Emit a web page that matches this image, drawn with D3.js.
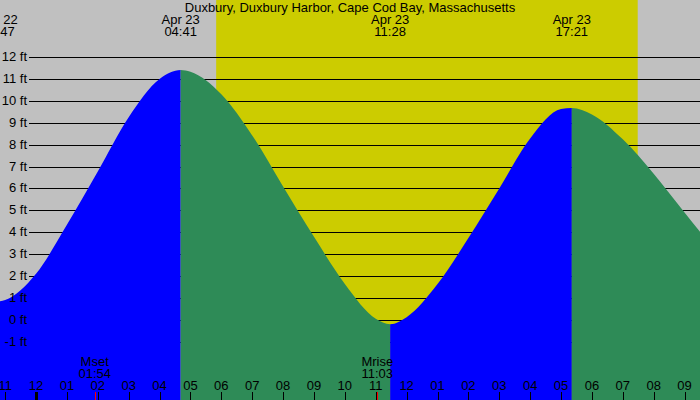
<!DOCTYPE html>
<html>
<head>
<meta charset="utf-8">
<script src="https://cdn.jsdelivr.net/npm/d3@7"></script>
<style>
    body { margin: 0; background: #ffffff; }
    svg { display: block; font-family: "Liberation Sans", Arial, sans-serif; }
</style>
</head>
<body>
<svg width="700" height="400"></svg>
<script>
const titleText = "Duxbury, Duxbury Harbor, Cape Cod Bay, Massachusetts";

// tide curve (time, feet)
const tideStamps = [
    "2023-04-22 22:47", "2023-04-22 23:00", "2023-04-23 00:00", "2023-04-23 01:00",
    "2023-04-23 02:00", "2023-04-23 03:00", "2023-04-23 04:00", "2023-04-23 04:41",
    "2023-04-23 05:00", "2023-04-23 06:00", "2023-04-23 07:00", "2023-04-23 08:00",
    "2023-04-23 09:00", "2023-04-23 10:00", "2023-04-23 11:00", "2023-04-23 11:28",
    "2023-04-23 12:00", "2023-04-23 13:00", "2023-04-23 14:00", "2023-04-23 15:00",
    "2023-04-23 16:00", "2023-04-23 17:00", "2023-04-23 17:21", "2023-04-23 18:00",
    "2023-04-23 19:00", "2023-04-23 20:00", "2023-04-23 21:00", "2023-04-23 21:30"
];
const tideFeet = [
    0.83, 0.9, 2.1, 4.34,
    6.77, 9.25, 11.0, 11.41,
    11.33, 10.3, 8.42, 6.09,
    3.79, 1.64, 0.05, -0.2,
    0.12, 1.63, 3.73, 6.0,
    8.28, 9.62, 9.67, 9.38,
    8.24, 6.67, 4.9, 4.02
];

// high / low events
const eventStamps = ["2023-04-22 22:47", "2023-04-23 04:41", "2023-04-23 11:28", "2023-04-23 17:21"];
const eventDays = ["Apr 22", "Apr 23", "Apr 23", "Apr 23"];
const eventTimes = ["22:47", "04:41", "11:28", "17:21"];
const eventFeet = [0.83, 11.41, -0.2, 9.67];

const sunrise = "2023-04-23 05:50";
const sunset = "2023-04-23 19:29";

const moonNames = ["Mset", "Mrise"];
const moonStamps = ["2023-04-23 01:54", "2023-04-23 11:03"];
const moonTimes = ["01:54", "11:03"];

const feetTicks = [-1, 0, 1, 2, 3, 4, 5, 6, 7, 8, 9, 10, 11, 12];

const viewStart = "2023-04-22 22:50";
const viewEnd = "2023-04-23 21:30";

const parse = d3.timeParse("%Y-%m-%d %H:%M");

function drawChart() {

    const attr = {
        width: 700,
        height: 400,
        top: 57,
        zeroY: 319.8,
        lineStart: 29,
        font: "13px"
    };

    const svg = d3.select("svg");
    svg.selectAll("*").remove();

    const scX = d3.scaleTime()
        .domain([parse(viewStart), parse(viewEnd)])
        .range([0, attr.width]);

    const scY = d3.scaleLinear()
        .domain([0, 12])
        .range([attr.zeroY, attr.top]);

    // night background
    svg.append("rect")
        .attr("width", attr.width)
        .attr("height", attr.height)
        .style("fill", "#c0c0c0");

    // daylight
    svg.append("rect")
        .attr("x", scX(parse(sunrise)))
        .attr("y", 0)
        .attr("width", scX(parse(sunset)) - scX(parse(sunrise)))
        .attr("height", attr.height)
        .style("fill", "#cccc00");

    // feet grid lines
    svg.selectAll(".grid")
        .data(feetTicks)
        .enter()
        .append("line")
        .attr("x1", attr.lineStart)
        .attr("x2", attr.width)
        .attr("y1", d => Math.round(scY(d)) + 0.5)
        .attr("y2", d => Math.round(scY(d)) + 0.5)
        .style("stroke", "#000")
        .style("stroke-width", 1);

    drawTide(svg, scX, scY, attr);
    drawLabels(svg, scX, scY, attr);
}

function drawTide(svg, scX, scY, attr) {

    const points = tideStamps.map((s, i) => ({ t: parse(s), ft: tideFeet[i] }));

    const area = d3.area()
        .x(d => scX(d.t))
        .y0(attr.height)
        .y1(d => scY(d.ft))
        .curve(d3.curveMonotoneX);

    // segments between highs and lows: [time, feet] at each boundary
    let bounds = [[scX.domain()[0], null]];
    eventStamps.forEach((s, i) => {
        const t = parse(s);
        if (t > bounds[0][0]) bounds.push([t, eventFeet[i]]);
    });
    bounds.push([scX.domain()[1], null]);

    const defs = svg.append("defs");

    for (let i = 0; i < bounds.length - 1; i++) {
        const x0 = i === 0 ? -20 : scX(bounds[i][0]);
        const x1 = i === bounds.length - 2 ? attr.width + 20 : scX(bounds[i + 1][0]);

        // a segment rises when it ends on a high or starts from a low
        let rising;
        if (bounds[i + 1][1] !== null && bounds[i][1] !== null) {
            rising = bounds[i + 1][1] > bounds[i][1];
        } else if (bounds[i + 1][1] !== null) {
            rising = bounds[i + 1][1] > bounds[i + 2][1];
        } else {
            rising = bounds[i][1] < bounds[i - 1][1];
        }

        defs.append("clipPath")
            .attr("id", "seg" + i)
            .append("rect")
            .attr("x", x0)
            .attr("y", 0)
            .attr("width", x1 - x0)
            .attr("height", attr.height);

        svg.append("path")
            .datum(points)
            .attr("d", area)
            .attr("clip-path", `url(#seg${i})`)
            .style("fill", rising ? "#0000ff" : "#2e8b57");
    }
}

function drawLabels(svg, scX, scY, attr) {

    // title
    svg.append("text")
        .attr("x", attr.width / 2)
        .attr("y", 12)
        .attr("text-anchor", "middle")
        .style("font-size", attr.font)
        .text(titleText);

    // feet labels
    svg.selectAll(".ftLabel")
        .data(feetTicks)
        .enter()
        .append("text")
        .attr("x", 27)
        .attr("y", d => scY(d) + 4)
        .attr("text-anchor", "end")
        .style("font-size", attr.font)
        .text(d => d + " ft");

    // event labels
    eventStamps.forEach((s, i) => {
        const x = scX(parse(s));
        svg.append("text")
            .attr("x", x)
            .attr("y", 24)
            .attr("text-anchor", "middle")
            .style("font-size", attr.font)
            .text(eventDays[i]);
        svg.append("text")
            .attr("x", x)
            .attr("y", 36)
            .attr("text-anchor", "middle")
            .style("font-size", attr.font)
            .text(eventTimes[i]);
    });

    // moon labels and red ticks
    moonStamps.forEach((s, i) => {
        const x = scX(parse(s));
        svg.append("text")
            .attr("x", x)
            .attr("y", 366)
            .attr("text-anchor", "middle")
            .style("font-size", attr.font)
            .text(moonNames[i]);
        svg.append("text")
            .attr("x", x)
            .attr("y", 378)
            .attr("text-anchor", "middle")
            .style("font-size", attr.font)
            .text(moonTimes[i]);
        svg.append("line")
            .attr("x1", Math.round(x) + 0.5)
            .attr("x2", Math.round(x) + 0.5)
            .attr("y1", 392)
            .attr("y2", attr.height)
            .style("stroke", "#ff0000")
            .style("stroke-width", 1);
    });

    // hour axis
    const hours = scX.ticks(d3.timeHour.every(1));
    const fmt = d3.timeFormat("%I");

    svg.selectAll(".hourTick")
        .data(hours)
        .enter()
        .append("line")
        .attr("x1", d => Math.round(scX(d)) + 0.5)
        .attr("x2", d => Math.round(scX(d)) + 0.5)
        .attr("y1", 392)
        .attr("y2", attr.height)
        .style("stroke", "#000")
        .style("stroke-width", d => d.getHours() === 0 ? 3 : 1);

    svg.selectAll(".hourLabel")
        .data(hours)
        .enter()
        .append("text")
        .attr("x", d => scX(d))
        .attr("y", 390)
        .attr("text-anchor", "middle")
        .style("font-size", attr.font)
        .text(d => fmt(d));
}

drawChart();
</script>
</body>
</html>
